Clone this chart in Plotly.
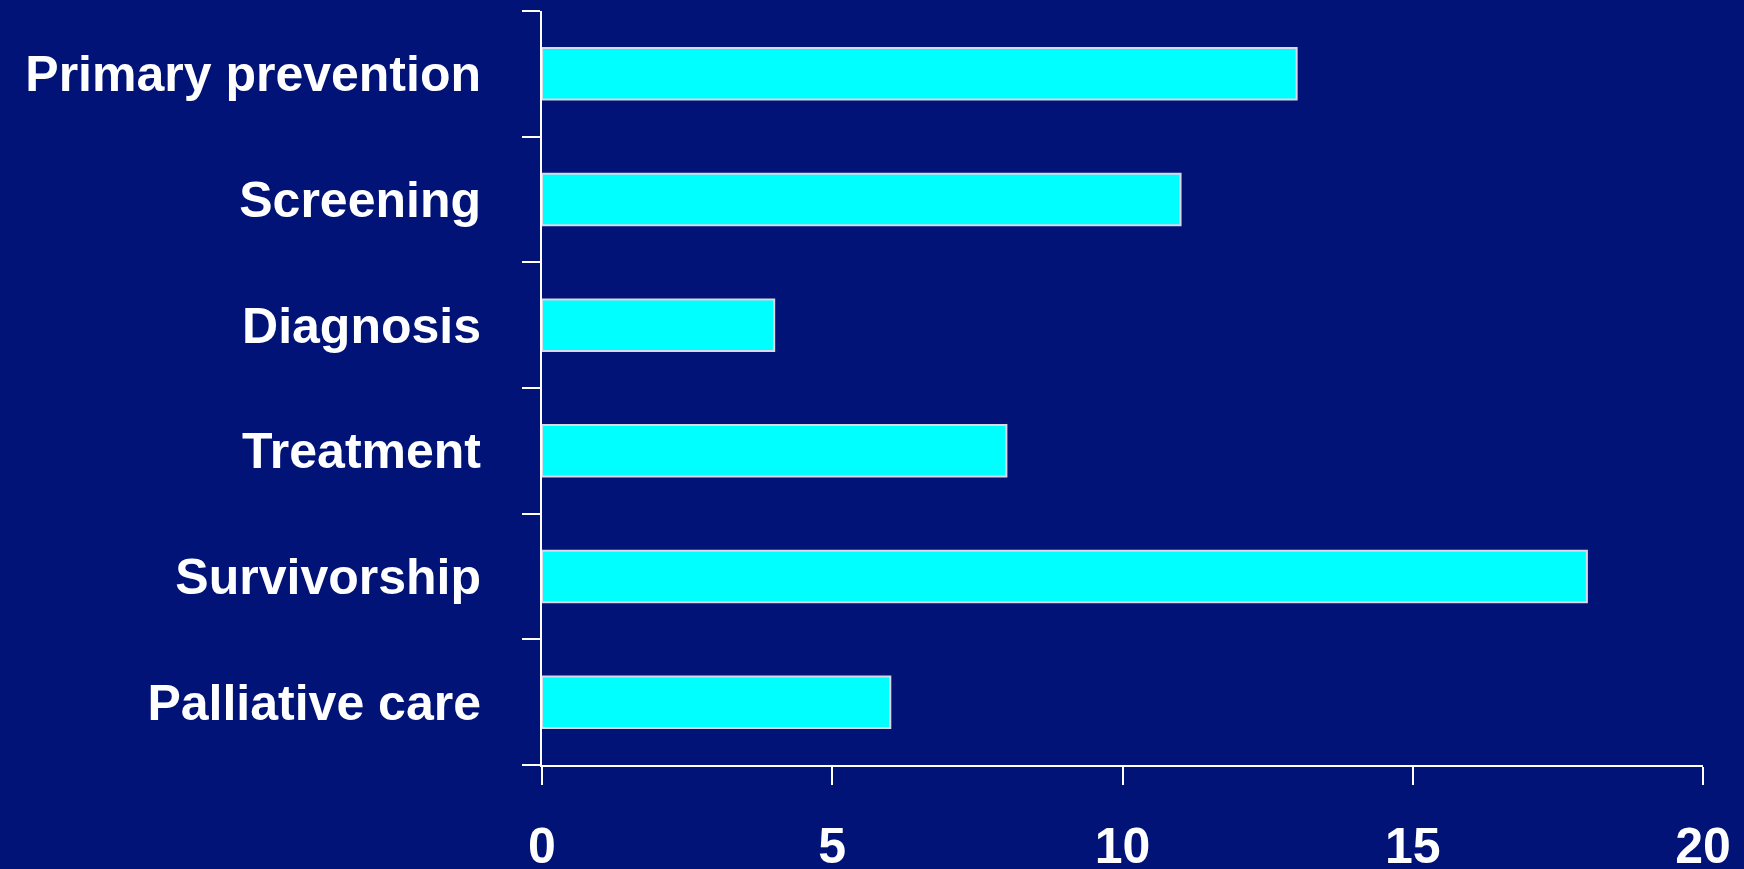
import plotly.graph_objects as go

categories = ["Primary prevention", "Screening", "Diagnosis", "Treatment", "Survivorship", "Palliative care"]
values = [13, 11, 4, 8, 18, 6]
x_ticks = [0, 5, 10, 15, 20]

BG = "#021377"
FONT = "Liberation Sans, Arial, sans-serif"

fig = go.Figure(go.Bar(
    x=values, y=categories, orientation="h",
    marker=dict(color="#00FFFF", line=dict(color="#D8D8E8", width=2)),
    width=0.41,
))

fig.update_layout(
    width=1744, height=869,
    paper_bgcolor=BG, plot_bgcolor=BG,
    margin=dict(l=542, r=41, t=11, b=104, autoexpand=False),
    showlegend=False,
    font=dict(family=FONT, color="white"),
)
fig.update_xaxes(
    range=[0, 20], tickvals=x_ticks, ticktext=[str(v) for v in x_ticks],
    showgrid=False, zeroline=False, automargin=False,
    showline=True, linecolor="white", linewidth=2,
    ticks="outside", ticklen=18, tickwidth=2, tickcolor="white",
    tickfont=dict(family=FONT, size=50, color="white", weight="bold"),
    ticklabelstandoff=18,
)
fig.update_yaxes(
    categoryorder="array", categoryarray=categories[::-1],
    range=[-0.5, 5.5],
    tickson="boundaries", automargin=False,
    showgrid=False, zeroline=False,
    showline=True, linecolor="white", linewidth=2,
    ticks="outside", ticklen=18, tickwidth=2, tickcolor="white",
    tickfont=dict(family=FONT, size=50, color="white", weight="bold"),
    ticklabelstandoff=49,
)

fig.write_html(
    "out.html",
    config={"displayModeBar": False},
    post_script="document.body.style.margin='0';document.body.style.background='" + BG + "';",
)
